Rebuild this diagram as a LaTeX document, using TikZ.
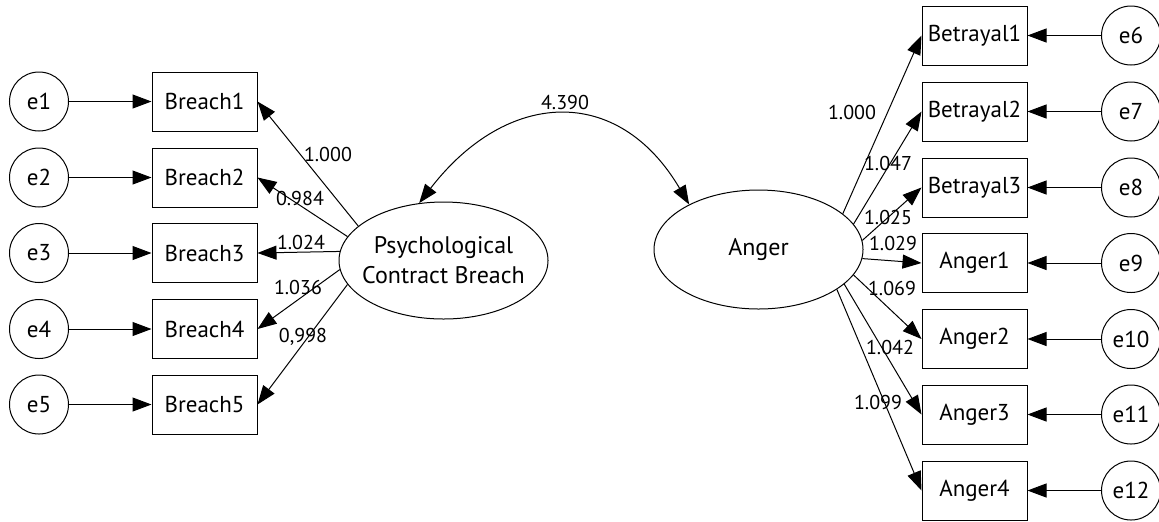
\documentclass[tikz,border=0pt]{standalone}
\usepackage{fontspec}
\setmainfont{PT Sans}
\usetikzlibrary{arrows.meta,shapes.geometric}
\begin{document}
\begin{tikzpicture}[x=0.5pt,y=-0.5pt,
  every node/.style={font=\fontsize{11.5}{15}\selectfont},
  obs/.style={draw, rectangle, minimum width=52.5pt, minimum height=29.5pt, inner sep=0pt, line width=0.5pt},
  err/.style={draw, circle, minimum size=29.5pt, inner sep=0pt, line width=0.5pt},
  lat/.style={draw, ellipse, minimum width=104.5pt, inner sep=0pt, line width=0.5pt},
  lattext/.style={align=center, inner sep=0pt, font=\fontsize{12}{15}\selectfont},
  lbl/.style={font=\fontsize{10}{11}\selectfont, inner sep=0pt},
  arr/.style={-{Triangle[length=9.5pt,width=7pt]}, line width=0.5pt},
  darr/.style={{Triangle[length=9.5pt,width=7pt]}-{Triangle[length=9.5pt,width=7pt]}, line width=0.5pt}]
\useasboundingbox (0,0) rectangle (1159,521);
% left side
\foreach \i/\y in {1/101.5,2/177.5,3/253,4/329,5/404.5}{
  \node[err] (e\i) at (39,\y) {e\i};
  \node[obs] (b\i) at (204.5,\y) {Breach\i};
  \draw[arr] (e\i) -- (b\i.west);
}
\node[lat, minimum height=58.5pt] (pcb) at (443.5,260.5) {};
\node[lattext] (pcbtext) at (pcb.center) {Psychological\\Contract Breach};
\node[lat, minimum height=59.5pt] (ang) at (758.5,249.5) {};
\node[lattext] (angtext) at (ang.center) {Anger};
% right side
\foreach \n/\t/\y in {6/Betrayal1/35.5,7/Betrayal2/111.5,8/Betrayal3/187.5,9/Anger1/263,10/Anger2/339,11/Anger3/414.5,12/Anger4/490.5}{
  \node[obs] (r\n) at (974.5,\y) {\t};
  \node[err] (e\n) at (1131,\y) {e\n};
  \draw[arr] (e\n) -- (r\n.east);
}
% loadings PCB
\draw[arr] (pcb.158.8) -- (b1.east);
\draw[arr] (pcb.166.3) -- (b2.east);
\draw[arr] (pcb.175.9) -- (b3.east);
\draw[arr] (pcb.185.7) -- (b4.east);
\draw[arr] (pcb.194.8) -- (b5.east);
% loadings Anger
\draw[arr] (ang.23.4) -- (r6.west);
\draw[arr] (ang.15.5) -- (r7.west);
\draw[arr] (ang.5.8) -- (r8.west);
\draw[arr] (ang.-5.2) -- (r9.west);
\draw[arr] (ang.-15.9) -- (r10.west);
\draw[arr] (ang.-22.3) -- (r11.west);
\draw[arr] (ang.-27.9) -- (r12.west);
% covariance
\draw[darr] (pcb.113.9) .. controls (506.7,89.5) and (618,83.8) .. (ang.147.7);
% labels
\node[lbl] (cov) at (565,102) {4.390};
\node[lbl] (l1) at (328,154) {1.000};
\node[lbl] (l2) at (300,198) {0.984};
\node[lbl] (l3) at (301,242) {1.024};
\node[lbl] (l4) at (298,287) {1.036};
\node[lbl] (l5) at (303,337) {0,998};
\node[lbl] (m1) at (852,112) {1.000};
\node[lbl] (m2) at (888,163) {1.047};
\node[lbl] (m3) at (888,217) {1.025};
\node[lbl] (m4) at (893,243) {1.029};
\node[lbl] (m5) at (892,288) {1.069};
\node[lbl] (m6) at (890,347) {1.042};
\node[lbl] (m7) at (878,402) {1.099};
\end{tikzpicture}
\end{document}
